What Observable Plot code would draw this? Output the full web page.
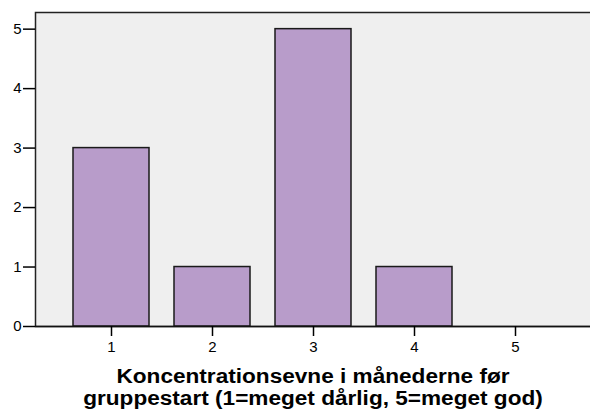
<!DOCTYPE html>
<html>
<head>
<meta charset="utf-8">
<script src="https://cdn.jsdelivr.net/npm/d3@7"></script>
<script src="https://cdn.jsdelivr.net/npm/@observablehq/plot@0.6"></script>
<style>
  html, body { margin: 0; padding: 0; background: #fff; }
  #chart { width: 590px; height: 414px; position: relative; overflow: hidden; }
  .title { position: absolute; left: 13px; width: 600px; top: 365px; text-align: center;
    font-family: "Liberation Sans", Arial, sans-serif; font-weight: bold; font-size: 20px; line-height: 22px; color: #000;
    transform: scaleX(1.13); transform-origin: 300px 0; white-space: nowrap; }
</style>
</head>
<body>
<div id="chart"></div>
<script>
const categories = ["1", "2", "3", "4", "5"];
const counts = [3, 1, 5, 1, 0];
const yTicks = [0, 1, 2, 3, 4, 5];
const titleLines = ["Koncentrationsevne i månederne før", "gruppestart (1=meget dårlig, 5=meget god)"];

const data = categories.map((c, i) => ({cat: c, n: counts[i]}));
const yMax = 5.28;

const plot = Plot.plot({
  width: 590,
  height: 360,
  marginLeft: 35,
  marginRight: -2,
  marginTop: 12,
  marginBottom: 34,
  style: {fontFamily: "'Liberation Sans', Arial, sans-serif", fontSize: "15px", color: "#000", background: "#fff"},
  x: {type: "band", domain: categories, paddingInner: 0.245, paddingOuter: 0.375, label: null},
  y: {domain: [0, yMax], label: null},
  marks: [
    Plot.frame({fill: "#efefef", stroke: "#222", strokeWidth: 1.5}),
    Plot.barY(data, {x: "cat", y: "n", fill: "#b89cca", stroke: "#1a1a1a", strokeWidth: 1.5}),
    Plot.ruleY([0], {stroke: "#111", strokeWidth: 1.5}),
    Plot.axisY(yTicks, {tickSize: 12, tickPadding: 2, fontSize: 15, strokeWidth: 1.5, tickFormat: "d", label: null}),
    Plot.axisX(categories, {tickSize: 10, tickPadding: 5, fontSize: 15, strokeWidth: 1.5, label: null})
  ]
});
const chart = document.getElementById("chart");
chart.appendChild(plot);
const t = document.createElement("div");
t.className = "title";
t.innerHTML = titleLines.join("<br>");
chart.appendChild(t);
</script>
</body>
</html>
